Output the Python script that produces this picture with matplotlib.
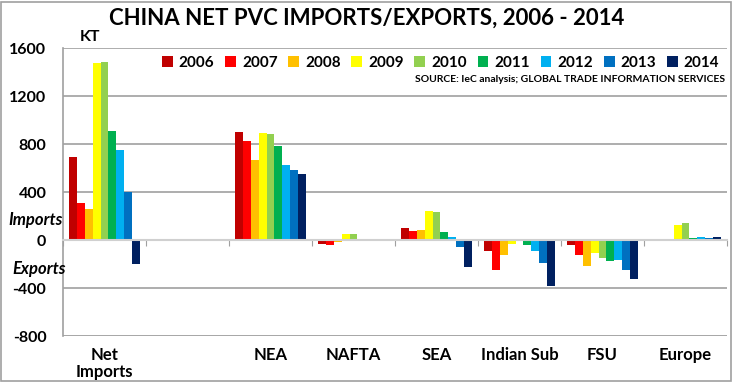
import matplotlib
matplotlib.use('Agg')
import numpy as np
import matplotlib.pyplot as plt
from matplotlib.patches import Rectangle
from matplotlib.transforms import blended_transform_factory

plt.rcParams['font.family'] = ['Lato', 'DejaVu Sans']

# DATA

regions = ['Net\nImports', '', 'NEA', 'NAFTA', 'SEA', 'Indian Sub', 'FSU', 'Europe']
years   = ['2006', '2007', '2008', '2009', '2010', '2011', '2012', '2013', '2014']
colors  = ['#C00000', '#FF0000', '#FFC000', '#FFFF00', '#92D050',
           '#00B050', '#00B0F0', '#0070C0', '#002060']

# values per year, one entry per region (KT)
v2006 = [690, 0, 899, -33, 97, -91, -41, 6]
v2007 = [308, 0, 825, -41, 74, -248, -127, 0]
v2008 = [256, 0, 670, -14, 80, -127, -215, 5]
v2009 = [1473, 0, 891, 50, 245, -36, -105, 124]
v2010 = [1487, 0, 880, 50, 237, -8, -152, 141]
v2011 = [910, 0, 783, 0, 69, -39, -174, 14]
v2012 = [753, 0, 621, 0, 22, -88, -166, 28]
v2013 = [400, 0, 585, 5, -61, -188, -248, 14]
v2014 = [-196, 0, 552, 0, -221, -383, -326, 22]
values = [v2006, v2007, v2008, v2009, v2010, v2011, v2012, v2013, v2014]

# FIGURE

fig = plt.figure(figsize=(7.33, 3.83), dpi=100)
ax = fig.add_axes([63/733, 47/383, 664/733, 288/383])

x = np.arange(len(regions))
w = 0.096
for i, (vals, c, yr) in enumerate(zip(values, colors, years)):
    ax.bar(x + (i - 4) * w, vals, width=w, color=c, label=yr, zorder=3)

ax.set_xlim(-0.5, len(regions) - 0.5)
ax.set_ylim(-800, 1600)
ax.set_yticks(np.arange(-800, 1601, 400))
ax.set_yticklabels([str(v) for v in np.arange(-800, 1601, 400)], fontsize=11.5, fontweight='bold')
ax.tick_params(axis='y', length=0, pad=12)
ax.yaxis.grid(True, color='#A0A0A0', lw=1.2, zorder=0)

for s in ['top', 'right']:
    ax.spines[s].set_visible(False)
ax.spines['left'].set_color('#A0A0A0')
ax.spines['left'].set_linewidth(1.2)
ax.spines['bottom'].set_position(('data', 0))
ax.spines['bottom'].set_color('#D0D0D0')
ax.spines['bottom'].set_linewidth(1.5)
ax.spines['bottom'].set_zorder(4)
ax.set_xticks(np.arange(-0.5, len(regions) - 0.4, 1))
ax.set_xticklabels([])
ax.tick_params(axis='x', length=4, color='#A0A0A0', direction='out')
ax.axhline(-800, color='#D0D0D0', lw=2, zorder=1)

trans = blended_transform_factory(ax.transData, ax.transAxes)
for xi, r in zip(x, regions):
    ax.text(xi, -0.038, r, transform=trans, ha='center', va='top',
            fontsize=12, fontweight='bold', linespacing=1.1)

fig.text(0.5, 1 - 18/383, 'CHINA NET PVC IMPORTS/EXPORTS, 2006 - 2014',
         ha='center', va='center', fontsize=16, fontweight='bold')
fig.text(80/733, 1 - 37/383, 'KT', ha='left', va='center', fontsize=11.5, fontweight='bold')
fig.text(8/733, 1 - 220/383, 'Imports', ha='left', va='center', fontsize=12,
         fontweight='bold', style='italic')
fig.text(12/733, 1 - 269/383, 'Exports', ha='left', va='center', fontsize=12,
         fontweight='bold', style='italic')
fig.text(725/733, 1 - 80/383, 'SOURCE: IeC analysis; GLOBAL TRADE INFORMATION SERVICES',
         ha='right', va='center', fontsize=7.5, fontweight='bold')

leg = ax.legend(ncol=9, loc='upper right', bbox_to_anchor=(1.0, 1.0), frameon=False,
                borderaxespad=0.1, handlelength=0.7, handleheight=0.7, handletextpad=0.4,
                columnspacing=0.7, prop={'weight': 'bold', 'size': 11})

fig.patches.append(Rectangle((0.002, 0.004), 0.995, 0.992, transform=fig.transFigure,
                             fill=False, edgecolor='#A0A0A0', lw=1.2))

fig.savefig('out.png', dpi=100)
